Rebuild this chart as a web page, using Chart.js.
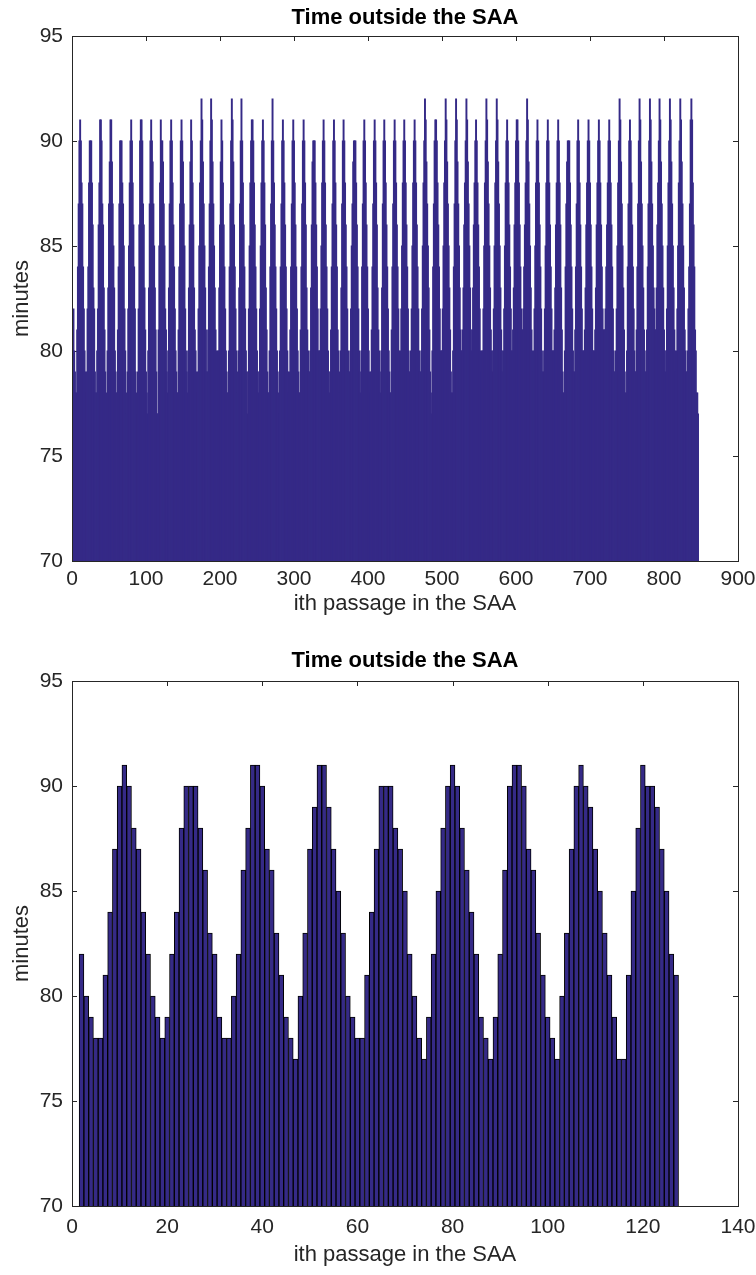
<!DOCTYPE html>
<html>
<head>
<meta charset="utf-8">
<script src="https://cdn.jsdelivr.net/npm/chart.js@4.4.1/dist/chart.umd.min.js"></script>
<style>
  html, body { margin: 0; padding: 0; background: #fff; }
  #wrap { position: relative; width: 756px; height: 1275px; }
  .panel { position: absolute; left: 0; width: 756px; height: 629px; }
</style>
</head>
<body>
<div id="wrap">
  <div class="panel" style="top:0"><canvas id="allPassChart"></canvas></div>
  <div class="panel" style="top:646px"><canvas id="firstPassChart"></canvas></div>
</div>
<script>
// minutes outside the SAA, passes 2..127
const firstPasses = [
  82, 80, 79, 78, 78, 81, 84, 87, 90, 91,
  90, 88, 87, 84, 82, 80, 79, 78, 79, 82,
  84, 88, 90, 90, 90, 88, 86, 83, 82, 79,
  78, 78, 80, 82, 86, 88, 91, 91, 90, 87,
  86, 83, 81, 79, 78, 77, 80, 83, 87, 89,
  91, 91, 89, 87, 85, 83, 80, 79, 78, 78,
  81, 84, 87, 90, 90, 90, 88, 87, 85, 82,
  80, 78, 77, 79, 82, 85, 88, 90, 91, 90,
  88, 86, 84, 82, 79, 78, 77, 79, 82, 86,
  90, 91, 91, 90, 87, 86, 83, 81, 79, 78,
  77, 80, 83, 87, 90, 91, 90, 89, 87, 85,
  83, 81, 79, 77, 77, 81, 85, 88, 91, 90,
  90, 89, 87, 85, 82, 81
];

// passes 128..846
const laterPasses = [
  79, 78, 80, 83, 87, 90,
  91, 90, 88, 86, 84, 82, 80, 79, 78, 78, 81, 84, 87, 90,
  91, 90, 89, 87, 85, 82, 80, 79, 78, 80, 83, 86, 89,
  91, 90, 88, 86, 83, 81, 80, 79, 78, 79, 82, 85, 88, 90,
  92, 91, 89, 87, 85, 83, 81, 79, 79, 81, 84, 87, 90,
  92, 91, 89, 87, 85, 83, 81, 80, 79, 80, 80, 83, 86, 89,
  91, 90, 88, 86, 84, 82, 80, 79, 78, 78, 80, 84, 87, 90,
  92, 91, 89, 86, 84, 82, 80, 79, 78, 80, 83, 87, 90,
  92, 90, 88, 86, 84, 82, 80, 79, 77, 79, 82, 85, 88, 90,
  91, 91, 90, 88, 86, 84, 82, 80, 79, 78, 79, 82, 85, 88, 90,
  91, 90, 88, 86, 83, 81, 79, 78, 78, 80, 84, 87, 90,
  92, 90, 88, 86, 84, 82, 80, 79, 78, 77, 80, 84, 87, 90,
  91, 90, 88, 86, 84, 82, 80, 79, 78, 79, 81, 84, 87, 90,
  91, 90, 88, 86, 84, 82, 80, 79, 78, 78, 81, 84, 87, 90,
  91, 90, 88, 86, 83, 81, 80, 79, 79, 80, 83, 86, 89,
  90, 90, 90, 88, 86, 84, 82, 80, 80, 80, 82, 85, 88, 90,
  91, 90, 88, 86, 84, 82, 80, 79, 78, 79, 81, 84, 87, 90,
  91, 90, 88, 86, 84, 81, 80, 79, 78, 80, 83, 87, 90,
  91, 90, 88, 86, 84, 82, 80, 79, 79, 80, 82, 85, 87, 89,
  90, 90, 90, 88, 86, 84, 82, 80, 79, 78, 80, 84, 87, 90,
  91, 90, 88, 86, 84, 82, 80, 79, 78, 79, 81, 84, 87, 90,
  91, 90, 88, 86, 83, 81, 80, 79, 78, 80, 83, 87, 90,
  91, 90, 88, 86, 84, 82, 80, 79, 78, 78, 81, 84, 87, 90,
  91, 90, 88, 86, 84, 82, 80, 79, 80, 82, 85, 88, 90,
  91, 90, 88, 86, 84, 82, 80, 79, 79, 80, 82, 85, 88, 90,
  91, 90, 88, 86, 84, 82, 80, 79, 79, 80, 82, 85, 88, 90,
  92, 91, 89, 87, 85, 83, 81, 79, 78, 77, 80, 84, 87, 90,
  91, 91, 90, 88, 86, 84, 82, 80, 80, 80, 82, 85, 88, 90,
  92, 91, 89, 87, 85, 83, 81, 79, 78, 78, 80, 84, 87, 90,
  92, 91, 89, 87, 85, 83, 81, 80, 80, 81, 83, 86, 88, 90,
  92, 91, 89, 87, 85, 83, 81, 80, 81, 83, 86, 88, 90,
  91, 90, 88, 86, 84, 82, 80, 79, 80, 80, 82, 85, 88, 90,
  92, 91, 89, 87, 85, 83, 81, 80, 79, 80, 82, 85, 88, 90,
  92, 91, 89, 87, 85, 83, 81, 80, 79, 80, 82, 85, 88, 90,
  91, 90, 88, 86, 84, 82, 80, 80, 81, 83, 86, 88, 90,
  91, 91, 90, 88, 86, 84, 82, 81, 81, 82, 84, 86, 88, 90,
  92, 91, 89, 87, 85, 83, 81, 80, 79, 80, 82, 85, 88, 90,
  91, 90, 88, 86, 84, 82, 80, 79, 79, 80, 82, 85, 88, 90,
  91, 90, 88, 86, 84, 82, 80, 80, 80, 81, 83, 86, 88, 90,
  91, 90, 88, 86, 83, 81, 79, 78, 78, 80, 84, 87, 89,
  90, 90, 90, 88, 86, 84, 82, 80, 79, 79, 81, 84, 87, 90,
  91, 90, 88, 86, 84, 82, 80, 80, 80, 81, 83, 86, 88, 90,
  91, 90, 88, 86, 84, 82, 80, 80, 80, 81, 83, 86, 88, 90,
  91, 90, 88, 86, 84, 82, 81, 81, 81, 82, 84, 86, 88, 90,
  91, 90, 88, 86, 84, 82, 80, 79, 79, 80, 82, 85, 88, 90,
  92, 91, 89, 87, 85, 83, 81, 79, 78, 78, 80, 84, 87, 90,
  91, 90, 88, 86, 84, 82, 80, 79, 79, 81, 84, 87, 90,
  92, 91, 89, 87, 85, 83, 81, 80, 79, 79, 81, 84, 87, 90,
  92, 91, 89, 87, 85, 83, 82, 81, 81, 83, 86, 88, 90,
  92, 91, 89, 87, 85, 83, 81, 80, 79, 80, 82, 85, 88, 90,
  92, 91, 89, 87, 85, 83, 81, 80, 79, 80, 82, 85, 88, 90,
  92, 91, 89, 87, 85, 83, 81, 80, 79, 79, 80, 82, 84, 87,
  91, 92, 91, 88, 86, 84, 81, 80, 78, 78, 77
];

const FIRST_PASS = 2;
const allPasses = firstPasses.concat(laterPasses);

const yTicks = [70, 75, 80, 85, 90, 95];
const allXTicks = [0, 100, 200, 300, 400, 500, 600, 700, 800, 900];
const firstXTicks = [0, 20, 40, 60, 80, 100, 120, 140];

const TITLE = 'Time outside the SAA';
const X_TITLE = 'ith passage in the SAA';
const Y_TITLE = 'minutes';

const barFill = '#352a87';
const ink = '#262626';
const TICK_LEN = 5;

Chart.defaults.font.family = '"Liberation Sans", Arial, Helvetica, sans-serif';
Chart.defaults.color = ink;

function points(values) {
  return values.map((v, i) => ({ x: FIRST_PASS + i, y: v }));
}

// axes box with inward ticks on all four sides, plus the title over the plot
const matlabAxes = {
  id: 'matlabAxes',
  beforeDatasetsDraw(chart, args, opts) {
    const { ctx, chartArea: a, scales: { x, y } } = chart;
    ctx.save();
    ctx.strokeStyle = ink;
    ctx.lineWidth = 1;
    ctx.beginPath();
    opts.xTicks.forEach(v => {
      const px = Math.round(x.getPixelForValue(v)) + 0.5;
      ctx.moveTo(px, a.bottom); ctx.lineTo(px, a.bottom - TICK_LEN);
      ctx.moveTo(px, a.top); ctx.lineTo(px, a.top + TICK_LEN);
    });
    yTicks.forEach(v => {
      const py = Math.round(y.getPixelForValue(v)) + 0.5;
      ctx.moveTo(a.left, py); ctx.lineTo(a.left + TICK_LEN, py);
      ctx.moveTo(a.right, py); ctx.lineTo(a.right - TICK_LEN, py);
    });
    ctx.stroke();
    ctx.restore();
  },
  afterDatasetsDraw(chart, args, opts) {
    const { ctx, chartArea: a } = chart;
    ctx.save();
    ctx.strokeStyle = ink;
    ctx.lineWidth = 1;
    ctx.strokeRect(Math.round(a.left) + 0.5, Math.round(a.top) + 0.5,
      Math.round(a.right - a.left), Math.round(a.bottom - a.top));
    ctx.fillStyle = '#000';
    ctx.font = 'bold 22px "Liberation Sans", Arial, sans-serif';
    ctx.textAlign = 'center';
    ctx.textBaseline = 'middle';
    ctx.fillText(TITLE, (a.left + a.right) / 2, opts.titleY);
    ctx.restore();
  }
};

function mk(id, values, xMax, xTicks, lay) {
  const el = document.getElementById(id);
  return new Chart(el.getContext('2d'), {
    type: 'bar',
    data: {
      datasets: [{
        data: points(values),
        backgroundColor: barFill,
        borderColor: lay.edge ? '#000' : barFill,
        borderWidth: lay.edge ? 1 : 0,
        inflateAmount: lay.edge ? 'auto' : 0.6,
        barPercentage: 1,
        categoryPercentage: 1
      }]
    },
    plugins: [matlabAxes],
    options: {
      responsive: true,
      maintainAspectRatio: false,
      animation: false,
      events: [],
      layout: { padding: { top: lay.top, right: 18, left: 0, bottom: 0 } },
      plugins: {
        legend: { display: false },
        tooltip: { enabled: false },
        matlabAxes: { xTicks: xTicks, titleY: lay.titleY }
      },
      scales: {
        x: {
          type: 'linear',
          min: 0,
          max: xMax,
          offset: false,
          grid: { display: false, drawTicks: false },
          border: { display: false },
          ticks: { font: { size: 21 }, color: ink, padding: lay.xPad, maxRotation: 0 },
          afterBuildTicks: s => { s.ticks = xTicks.map(v => ({ value: v })); },
          afterFit: s => { s.height = lay.xHeight; s.paddingLeft = 0; s.paddingRight = 0; },
          title: { display: true, text: X_TITLE, color: ink, font: { size: 22 }, padding: { top: 0, bottom: lay.xTitlePad } }
        },
        y: {
          min: 70,
          max: 95,
          grid: { display: false, drawTicks: false },
          border: { display: false },
          ticks: { font: { size: 21 }, color: ink, padding: 9 },
          afterBuildTicks: s => { s.ticks = yTicks.map(v => ({ value: v })); },
          afterFit: s => { s.width = 72; s.paddingTop = 0; s.paddingBottom = 0; },
          title: { display: true, text: Y_TITLE, color: ink, font: { size: 22 }, padding: { top: 9, bottom: 0 } }
        }
      }
    }
  });
}

mk('allPassChart', allPasses, 900, allXTicks,
  { top: 36, titleY: 18, xHeight: 68, xPad: 6, xTitlePad: 12, edge: false });
mk('firstPassChart', firstPasses, 140, firstXTicks,
  { top: 35, titleY: 15, xHeight: 69, xPad: 9, xTitlePad: 7, edge: true });
</script>
</body>
</html>
